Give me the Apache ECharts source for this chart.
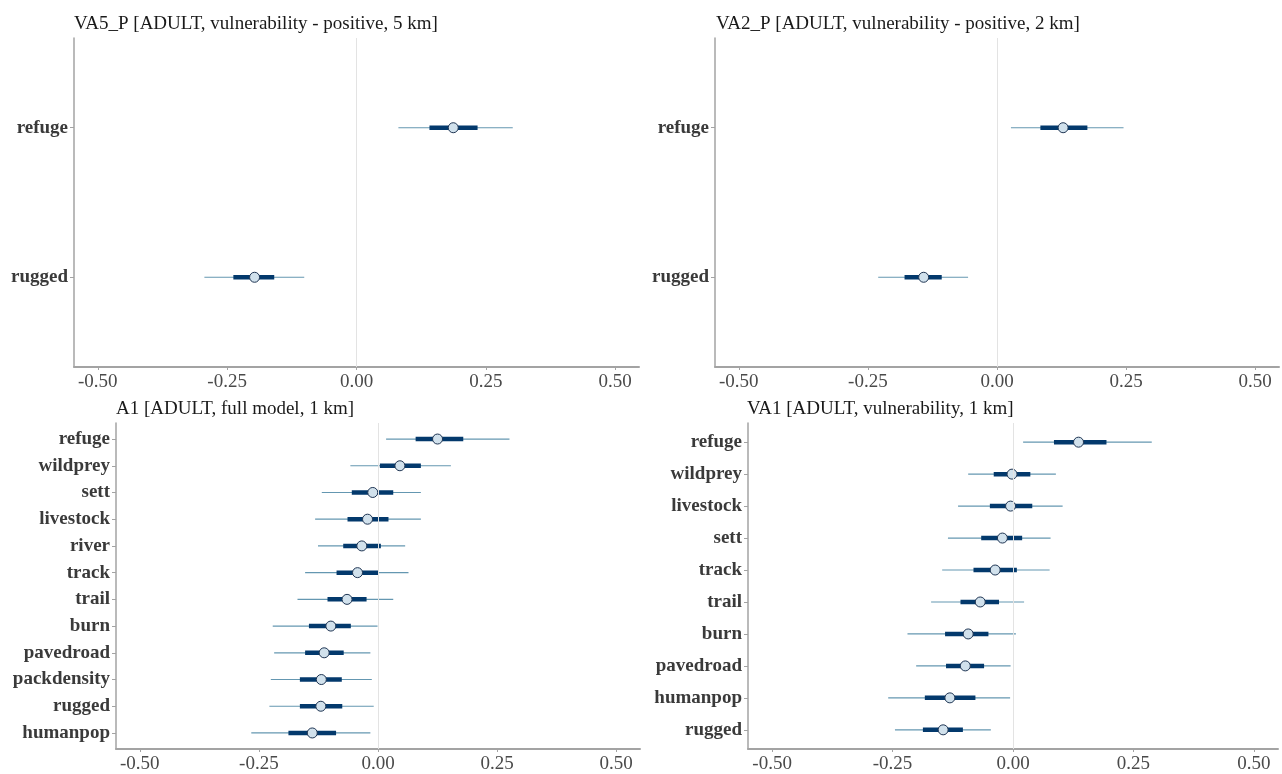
<!DOCTYPE html>
<html>
<head>
<meta charset="utf-8">
<script src="https://cdn.jsdelivr.net/npm/echarts@6/dist/echarts.min.js"></script>
<style>
html,body{margin:0;padding:0;background:#fff;}
#chart{width:1282px;height:774px;}
</style>
</head>
<body>
<div id="chart"></div>
<script>
// ---------- DATA ----------
const xTicks = [-0.5, -0.25, 0, 0.25, 0.5];

// Panel 1: VA5_P
const va5Title = 'VA5_P [ADULT, vulnerability - positive, 5 km]';
const va5Categories = ['refuge', 'rugged'];
const va5Median   = [0.187, -0.197];
const va5OuterLow = [0.081, -0.294];
const va5OuterHigh= [0.302, -0.101];
const va5InnerLow = [0.141, -0.238];
const va5InnerHigh= [0.234, -0.159];

// Panel 2: VA2_P
const va2Title = 'VA2_P [ADULT, vulnerability - positive, 2 km]';
const va2Categories = ['refuge', 'rugged'];
const va2Median   = [0.128, -0.142];
const va2OuterLow = [0.027, -0.230];
const va2OuterHigh= [0.245, -0.056];
const va2InnerLow = [0.084, -0.179];
const va2InnerHigh= [0.175, -0.107];

// Panel 3: A1
const a1Title = 'A1 [ADULT, full model, 1 km]';
const a1Categories = ['refuge','wildprey','sett','livestock','river','track','trail','burn','pavedroad','packdensity','rugged','humanpop'];
const a1Median    = [0.125, 0.046, -0.011, -0.022, -0.034, -0.043, -0.065, -0.099, -0.113, -0.119, -0.120, -0.138];
const a1OuterLow  = [0.017, -0.058, -0.118, -0.132, -0.126, -0.153, -0.169, -0.221, -0.218, -0.225, -0.228, -0.266];
const a1OuterHigh = [0.276, 0.153, 0.090, 0.090, 0.057, 0.064, 0.032, -0.001, -0.016, -0.013, -0.009, -0.016];
const a1InnerLow  = [0.079, 0.004, -0.055, -0.064, -0.073, -0.087, -0.106, -0.145, -0.153, -0.164, -0.164, -0.188];
const a1InnerHigh = [0.179, 0.090, 0.032, 0.022, 0.006, 0.001, -0.024, -0.057, -0.072, -0.076, -0.075, -0.088];

// Panel 4: VA1
const va1Title = 'VA1 [ADULT, vulnerability, 1 km]';
const va1Categories = ['refuge','wildprey','livestock','sett','track','trail','burn','pavedroad','humanpop','rugged'];
const va1Median    = [0.136, -0.002, -0.005, -0.022, -0.037, -0.068, -0.093, -0.099, -0.131, -0.145];
const va1OuterLow  = [0.021, -0.093, -0.114, -0.135, -0.147, -0.170, -0.219, -0.201, -0.259, -0.245];
const va1OuterHigh = [0.288, 0.089, 0.103, 0.078, 0.076, 0.023, 0.006, -0.005, -0.006, -0.046];
const va1InnerLow  = [0.085, -0.040, -0.048, -0.066, -0.082, -0.109, -0.141, -0.139, -0.183, -0.187];
const va1InnerHigh = [0.194, 0.036, 0.040, 0.019, 0.008, -0.029, -0.051, -0.060, -0.078, -0.104];

// ---------- STYLE ----------
const FONT = '"Liberation Serif", "Times New Roman", serif';
const AXIS_COLOR = '#a3a3a3';
const OUTER_COLOR = '#6497b1';
const INNER_COLOR = '#03396c';
const POINT_FILL = '#d1e1ec';
const POINT_BORDER = '#1f3553';

const panels = [
  {title: va5Title, cats: va5Categories, med: va5Median, ol: va5OuterLow, oh: va5OuterHigh, il: va5InnerLow, ih: va5InnerHigh,
   grid: {left: 74, top: 38, width: 565, height: 329}, xr: 0.546, titlePos: {left: 69, top: 10}},
  {title: va2Title, cats: va2Categories, med: va2Median, ol: va2OuterLow, oh: va2OuterHigh, il: va2InnerLow, ih: va2InnerHigh,
   grid: {left: 715, top: 38, width: 564, height: 329}, xr: 0.546, titlePos: {left: 711, top: 10}},
  {title: a1Title, cats: a1Categories, med: a1Median, ol: a1OuterLow, oh: a1OuterHigh, il: a1InnerLow, ih: a1InnerHigh,
   grid: {left: 116, top: 423, width: 524, height: 329}, xr: 0.55, titlePos: {left: 111, top: 395}},
  {title: va1Title, cats: va1Categories, med: va1Median, ol: va1OuterLow, oh: va1OuterHigh, il: va1InnerLow, ih: va1InnerHigh,
   grid: {left: 748, top: 423, width: 530, height: 329}, xr: 0.55, titlePos: {left: 742, top: 395}}
];

const option = {
  backgroundColor: '#ffffff',
  animation: false,
  title: [], grid: [], xAxis: [], yAxis: [], series: []
};

panels.forEach((p, i) => {
  const n = p.cats.length;
  const idx = p.cats.map((_, k) => k);
  option.title.push({
    text: p.title, left: p.titlePos.left, top: p.titlePos.top,
    textStyle: {fontFamily: FONT, fontSize: 19, fontWeight: 'normal', color: '#1a1a1a'}
  });
  option.grid.push(Object.assign({containLabel: false}, p.grid));
  option.xAxis.push({
    gridIndex: i, type: 'value', min: -p.xr, max: p.xr,
    axisLine: {show: true, onZero: false, lineStyle: {color: AXIS_COLOR, width: 2}},
    axisTick: {show: true, customValues: xTicks, length: 3, lineStyle: {color: AXIS_COLOR, width: 1}},
    axisLabel: {customValues: xTicks, formatter: v => Number(v).toFixed(2), fontFamily: FONT, fontSize: 19, color: '#4a4a4a', margin: 6},
    splitLine: {show: false}
  });
  option.yAxis.push({
    gridIndex: i, type: 'value', inverse: true, min: -0.6, max: n - 0.4,
    axisLine: {show: true, onZero: false, lineStyle: {color: AXIS_COLOR, width: 1.5}},
    axisTick: {show: true, customValues: idx, length: 4, lineStyle: {color: AXIS_COLOR, width: 1}},
    axisLabel: {customValues: idx, formatter: v => p.cats[Math.round(v)], fontFamily: FONT, fontSize: 19, fontWeight: 'bold', color: '#3a3a3a', margin: 6},
    splitLine: {show: false}
  });
  // zero reference line
  option.series.push({
    type: 'line', xAxisIndex: i, yAxisIndex: i, data: [], z: 1, silent: true,
    markLine: {silent: true, symbol: 'none', label: {show: false},
      lineStyle: {color: '#e3e3e3', width: 1, type: 'solid'}, data: [{xAxis: 0}]}
  });
  // interval segments
  option.series.push({
    type: 'custom', xAxisIndex: i, yAxisIndex: i, z: 2, silent: true,
    data: idx.map(k => [k, p.ol[k], p.oh[k], p.il[k], p.ih[k]]),
    encode: {y: 0, x: [1, 2, 3, 4]},
    renderItem: (params, api) => {
      const y = api.value(0);
      const o1 = api.coord([api.value(1), y]);
      const o2 = api.coord([api.value(2), y]);
      const i1 = api.coord([api.value(3), y]);
      const i2 = api.coord([api.value(4), y]);
      return {type: 'group', children: [
        {type: 'line', shape: {x1: o1[0], y1: o1[1], x2: o2[0], y2: o2[1]}, style: {stroke: OUTER_COLOR, lineWidth: 1.2}},
        {type: 'line', shape: {x1: i1[0], y1: i1[1], x2: i2[0], y2: i2[1]}, style: {stroke: INNER_COLOR, lineWidth: 4.5}}
      ]};
    }
  });
  // point estimates
  option.series.push({
    type: 'scatter', xAxisIndex: i, yAxisIndex: i, z: 3, silent: true,
    symbol: 'circle', symbolSize: 10,
    itemStyle: {color: POINT_FILL, borderColor: POINT_BORDER, borderWidth: 1, opacity: 1},
    data: idx.map(k => [p.med[k], k])
  });
});

const chart = echarts.init(document.getElementById('chart'), null, {renderer: 'canvas'});
chart.setOption(option);
</script>
</body>
</html>
